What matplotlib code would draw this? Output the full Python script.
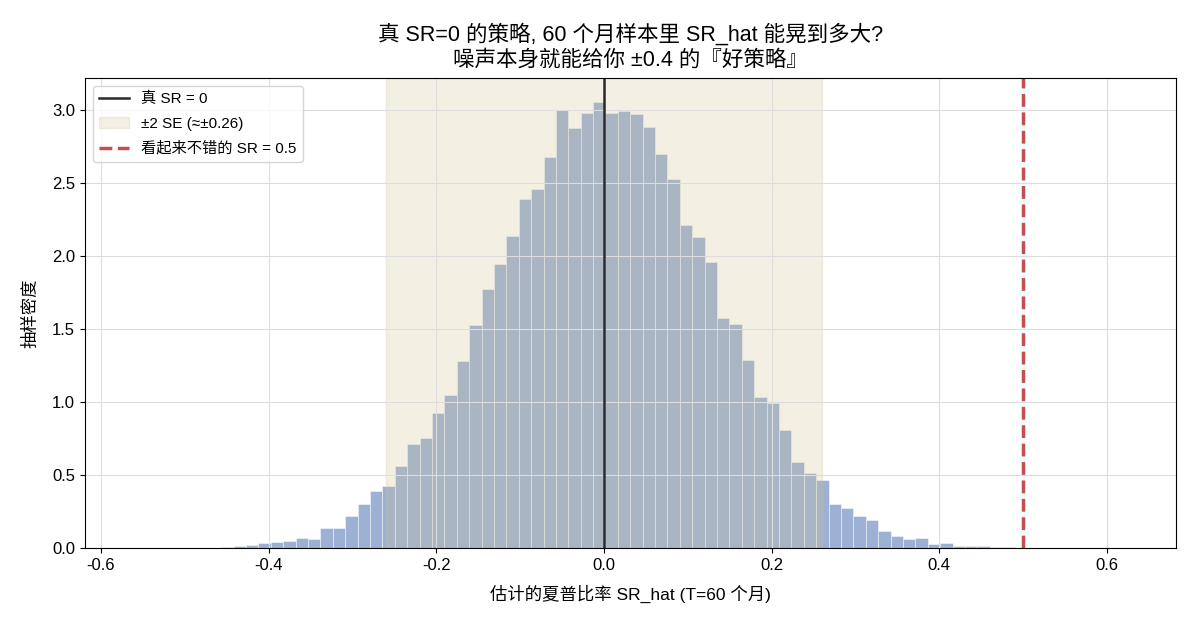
import numpy as np
import matplotlib
matplotlib.use("Agg")
import matplotlib.pyplot as plt

plt.rcParams['font.family'] = ['Liberation Sans', 'Noto Sans CJK SC', 'DejaVu Sans']
plt.rcParams['axes.unicode_minus'] = False

# histogram of simulated SR_hat (density), 80 bins
bin_lo = -0.560
bin_hi = 0.623
density = [
    0.001, 0.0, 0.0, 0.0, 0.0, 0.0, 0.0, 0.005, 0.014, 0.023,
    0.030, 0.037, 0.046, 0.066, 0.059, 0.133, 0.133, 0.219, 0.300, 0.390,
    0.425, 0.560, 0.710, 0.755, 0.922, 1.046, 1.283, 1.530, 1.776, 1.943,
    2.135, 2.388, 2.461, 2.680, 3.002, 2.879, 2.980, 3.057, 2.980, 2.995,
    2.970, 2.886, 2.696, 2.525, 2.214, 2.128, 1.957, 1.577, 1.532, 1.290,
    1.036, 0.991, 0.806, 0.591, 0.511, 0.463, 0.298, 0.270, 0.216, 0.190,
    0.114, 0.080, 0.061, 0.068, 0.025, 0.032, 0.011, 0.010, 0.010, 0.008,
    0.008, 0.0, 0.0, 0.0, 0.0, 0.0, 0.0, 0.0, 0.0, 0.001,
]
true_sr = 0.0
se2 = 0.26
good_sr = 0.5

edges = np.linspace(bin_lo, bin_hi, len(density) + 1)

fig = plt.figure(figsize=(11.96, 6.24), dpi=100)
ax = fig.add_axes([0.071, 0.122, 0.912, 0.753])

ax.bar(edges[:-1], density, width=np.diff(edges), align="edge",
       color="#4C72B0", alpha=0.55, edgecolor="white", linewidth=0.6)
ax.axvspan(-se2, se2, color="#d3c393", alpha=0.25, label="±2 SE (≈±0.26)")
ax.axvline(true_sr, color="#2a2a2a", linewidth=1.8, label="真 SR = 0")
ax.axvline(good_sr, color="#c44e52", linewidth=2.5, linestyle="--",
           label="看起来不错的 SR = 0.5")

ax.set_xlim(-0.619, 0.682)
ax.set_ylim(0, 3.22)
ax.grid(True, color="#dddddd", linewidth=0.8)
ax.tick_params(labelsize=12)
ax.set_xlabel("估计的夏普比率 SR_hat (T=60 个月)", fontsize=12.5, labelpad=9)
ax.set_ylabel("抽样密度", fontsize=12.5, labelpad=10)
ax.set_title("真 SR=0 的策略, 60 个月样本里 SR_hat 能晃到多大?\n噪声本身就能给你 ±0.4 的『好策略』",
             fontsize=15.5, linespacing=1.25, pad=9)

handles, labels = ax.get_legend_handles_labels()
order = [labels.index("真 SR = 0"), labels.index("±2 SE (≈±0.26)"),
         labels.index("看起来不错的 SR = 0.5")]
ax.legend([handles[i] for i in order], [labels[i] for i in order],
          loc="upper left", fontsize=11, labelspacing=0.7)

fig.savefig("out.png", dpi=100)
